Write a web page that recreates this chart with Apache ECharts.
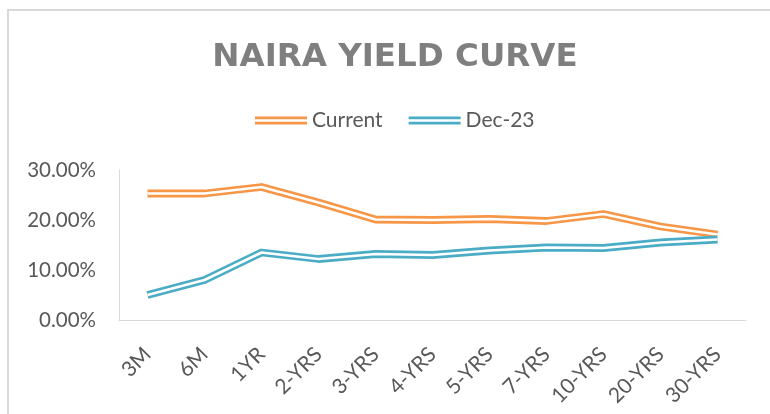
<!DOCTYPE html>
<html>
<head>
<meta charset="utf-8">
<script src="https://cdn.jsdelivr.net/npm/echarts@6/dist/echarts.min.js"></script>
<style>
  html, body { margin: 0; padding: 0; background: #fff; }
  #chart { width: 770px; height: 414px; }
</style>
</head>
<body>
<div id="chart"></div>
<script>
  // tenors and yields (%)
  var tenors = ['3M', '6M', '1YR', '2-YRS', '3-YRS', '4-YRS', '5-YRS', '7-YRS', '10-YRS', '20-YRS', '30-YRS']
  var current = [25.3, 25.3, 26.6, 23.5, 20.1, 20.0, 20.2, 19.8, 21.2, 18.7, 17.1]
  var dec23 = [5.0, 8.0, 13.5, 12.2, 13.2, 13.0, 13.9, 14.5, 14.4, 15.5, 16.1]
  var yTicks = [0, 10, 20, 30]

  var colors = ['#F79646', '#4BACC6']
  var font = 'Lato, "Open Sans", sans-serif'
  var doubleIcon = 'path://M0,0H52V2.6H0Z M0,5.2H52V7.8H0Z'

  // excel style "double" line: thick coloured stroke with a white core on top
  function doubleLine(name, data, color) {
    return [
      {
        name: name,
        type: 'line',
        data: data,
        symbol: 'none',
        silent: true,
        lineStyle: { color: color, width: 7.8, join: 'round' },
        itemStyle: { color: color }
      },
      {
        name: name + '_core',
        type: 'line',
        data: data,
        symbol: 'none',
        silent: true,
        lineStyle: { color: '#ffffff', width: 2.6, join: 'round' }
      }
    ]
  }

  var chart = echarts.init(document.getElementById('chart'))
  chart.setOption({
    animation: false,
    backgroundColor: '#ffffff',
    title: {
      text: 'NAIRA YIELD CURVE',
      left: 390,
      textAlign: 'center',
      top: 36,
      textStyle: {
        fontFamily: '"DejaVu Sans", sans-serif',
        fontSize: 32.5,
        fontWeight: 'bold',
        color: '#7f7f7f'
      }
    },
    legend: {
      data: ['Current', 'Dec-23'],
      top: 105,
      left: 250,
      icon: doubleIcon,
      itemWidth: 52,
      itemHeight: 8,
      itemGap: 26,
      textStyle: { fontFamily: font, fontSize: 21, color: '#595959' }
    },
    graphic: [{
      type: 'rect',
      shape: { x: 8, y: 10, width: 900, height: 600 },
      style: { fill: 'none', stroke: '#d9d9d9', lineWidth: 2 },
      silent: true
    }],
    grid: { left: 119, right: 24, top: 170, bottom: 94 },
    xAxis: {
      type: 'category',
      data: tenors,
      axisLine: { lineStyle: { color: '#d9d9d9', width: 1 } },
      axisTick: { show: false },
      axisLabel: {
        rotate: 45,
        margin: 31,
        interval: 0,
        fontFamily: font,
        fontSize: 21,
        color: '#595959'
      }
    },
    yAxis: {
      type: 'value',
      min: yTicks[0],
      max: yTicks[yTicks.length - 1],
      interval: 10,
      axisLine: { show: true, lineStyle: { color: '#d9d9d9', width: 1 } },
      axisTick: { show: false },
      splitLine: { show: false },
      axisLabel: {
        margin: 23,
        fontFamily: font,
        fontSize: 20.5,
        color: '#595959',
        formatter: function(v) { return v.toFixed(2) + '%' }
      }
    },
    series: [].concat(
      doubleLine('Current', current, colors[0]),
      doubleLine('Dec-23', dec23, colors[1])
    )
  })
</script>
</body>
</html>
